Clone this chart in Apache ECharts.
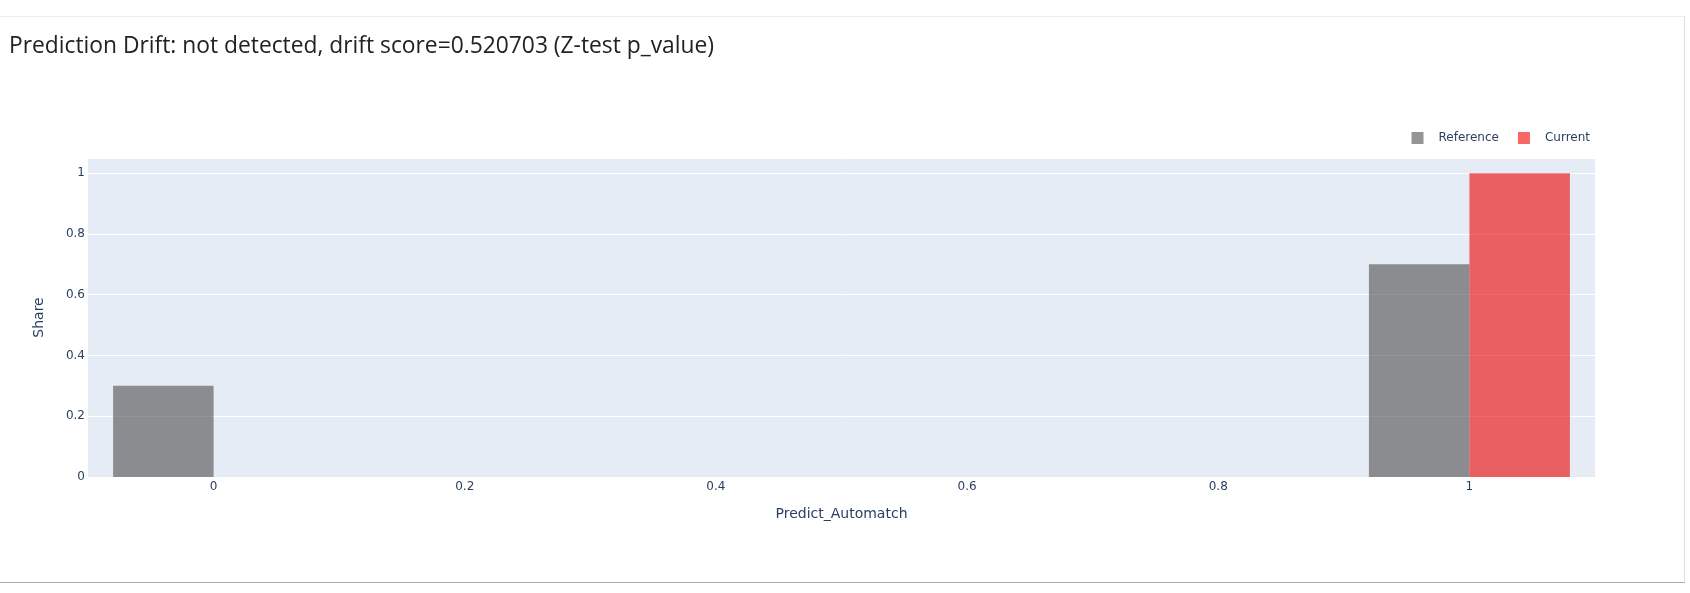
<!DOCTYPE html>
<html>
<head>
<meta charset="utf-8">
<script src="https://cdn.jsdelivr.net/npm/echarts@6/dist/echarts.min.js"></script>
<style>
	html, body { margin: 0; padding: 0; background: #fff; }
	#card {
		position: absolute; left: -1px; top: 16px; width: 1685px; height: 565px;
		border-top: 1px solid #eeeeee; border-right: 1px solid #dddddd; border-bottom: 1px solid #aaaaaa;
	}
	#chart1 { position: absolute; left: 0; top: 0; width: 1690px; height: 593px; }
</style>
</head>
<body>
<div id="card"></div>
<div id="chart1"></div>

<script>
	// values
	const series_names = ['Reference', 'Current'];
	const bin_x = [0, 1];
	const reference_share = [0.3, 0.7];
	const current_share = [0, 1];
	const x_ticks = [0, 0.2, 0.4, 0.6, 0.8, 1];
	const y_ticks = [0, 0.2, 0.4, 0.6, 0.8, 1];

	const txt = '#2a3f5f';
	const font = '"DejaVu Sans", Verdana, sans-serif';

	var chart1 = echarts.init(document.getElementById('chart1'));

	var chart1_option = {
		animation: false,
		title: {
			text: 'Prediction Drift: not detected, drift score=0.520703 (Z-test p_value)',
			left: 9,
			top: 35,
			padding: 0,
			textStyle: { fontFamily: '"Open Sans", sans-serif', fontSize: 22.8, fontWeight: 'normal', color: '#222222' }
		},
		legend: {
			data: series_names,
			right: 95,
			top: 127,
			icon: 'rect',
			itemWidth: 12,
			itemHeight: 12,
			itemGap: 19,
			textStyle: { fontFamily: font, fontSize: 12, color: txt, padding: [0, 0, 0, 10] }
		},
		grid: {
			left: 88,
			right: 95,
			top: 158,
			bottom: 116,
			show: true,
			backgroundColor: '#e5ecf6',
			borderWidth: 0
		},
		xAxis: {
			type: 'value',
			min: -0.1,
			max: 1.1,
			name: 'Predict_Automatch',
			nameLocation: 'middle',
			nameGap: 30,
			nameTextStyle: { fontFamily: font, fontSize: 14, color: txt },
			axisLine: { show: false },
			axisTick: { show: false },
			splitLine: { show: false },
			axisLabel: {
				customValues: x_ticks,
				margin: 4,
				fontFamily: font, fontSize: 12, color: txt
			}
		},
		yAxis: {
			type: 'value',
			min: 0,
			max: 1.05,
			interval: 0.2,
			name: 'Share',
			nameLocation: 'middle',
			nameGap: 42,
			nameTextStyle: { fontFamily: font, fontSize: 14, color: txt },
			axisLine: { show: false },
			axisTick: { show: false },
			splitLine: { show: true, lineStyle: { color: '#ffffff', width: 1 } },
			axisLabel: {
				customValues: y_ticks,
				margin: 3,
				padding: [4, 0, 0, 0],
				fontFamily: font, fontSize: 12, color: txt
			}
		},
		series: [{
			name: series_names[0],
			type: 'bar',
			barWidth: 100.5,
			barGap: '0%',
			itemStyle: { color: '#4d4d4d', opacity: 0.6 },
			data: bin_x.map((x, i) => [x, reference_share[i]])
		}, {
			name: series_names[1],
			type: 'bar',
			barWidth: 100.5,
			barGap: '0%',
			itemStyle: { color: '#ed0400', opacity: 0.6 },
			data: bin_x.map((x, i) => [x, current_share[i]])
		}]
	};

	chart1.setOption(chart1_option);
</script>
</body>
</html>
